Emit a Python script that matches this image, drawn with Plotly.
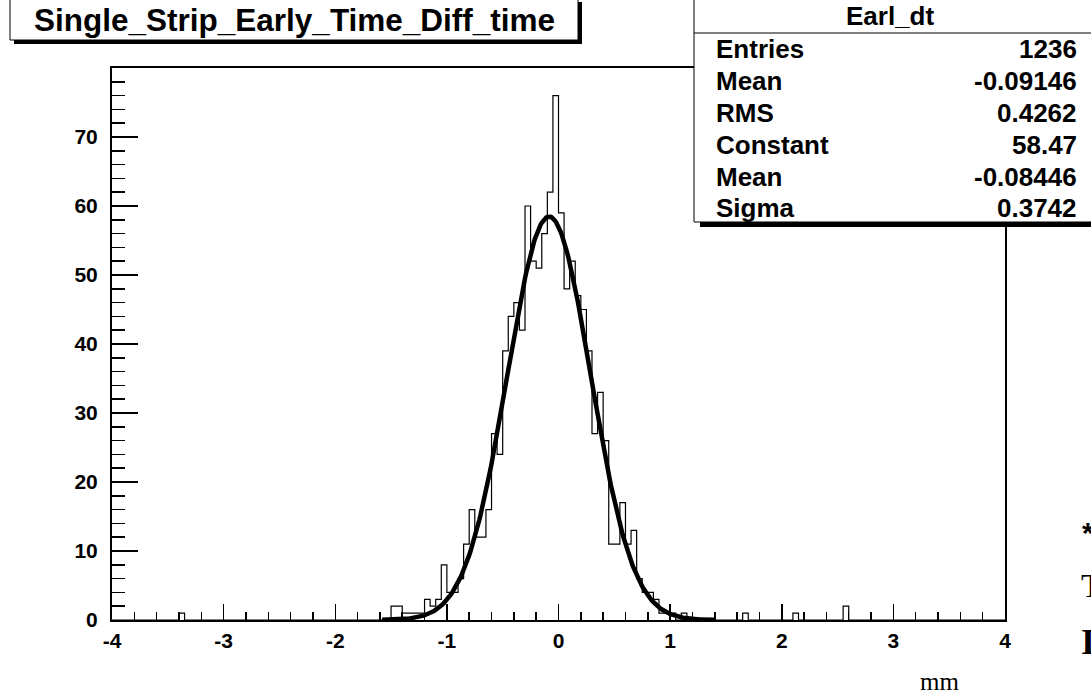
import math
import plotly.graph_objects as go

# ---------------- data ----------------
hist_name = "Earl_dt"
title_text = "Single_Strip_Early_Time_Diff_time"
x_min, x_max, bin_width = -4.0, 4.0, 0.05
counts = [
    0, 0, 0, 0, 0, 0, 0, 0, 0, 0, 0, 0, 1, 0, 0, 0, 0, 0, 0, 0,
    0, 0, 0, 0, 0, 0, 0, 0, 0, 0, 0, 0, 0, 0, 0, 0, 0, 0, 0, 0,
    0, 0, 0, 0, 0, 0, 0, 0, 0, 0, 2, 2, 1, 1, 1, 1, 3, 2, 3, 8,
    4, 4, 6, 11, 16, 12, 12, 16, 27, 24, 39, 44, 46, 42, 60, 52, 51, 56, 62, 76,
    59, 48, 52, 47, 45, 39, 27, 33, 26, 11, 11, 17, 11, 13, 6, 4, 4, 3, 1, 1,
    1, 0, 1, 0, 0, 0, 0, 0, 0, 0, 0, 0, 0, 1, 0, 0, 0, 0, 0, 0,
    0, 0, 1, 0, 0, 0, 0, 0, 0, 0, 0, 2, 0, 0, 0, 0, 0, 0, 0, 0,
    0, 0, 0, 0, 0, 0, 0, 0, 0, 0, 0, 0, 0, 0, 0, 0, 0, 0, 0, 0,
]
stat_labels = ["Entries", "Mean", "RMS", "Constant", "Mean", "Sigma"]
stat_values = ["1236", "-0.09146", "0.4262", "58.47", "-0.08446", "0.3742"]
fit_constant, fit_mean, fit_sigma = 58.47, -0.08446, 0.3742
fit_range = [-1.58, 1.41]
x_tick_vals = [-4, -3, -2, -1, 0, 1, 2, 3, 4]
x_tick_labels = ["-4", "-3", "-2", "-1", "0", "1", "2", "3", "4"]
y_tick_vals = [0, 10, 20, 30, 40, 50, 60, 70]
y_tick_labels = ["0", "10", "20", "30", "40", "50", "60", "70"]
unit_label = "mm"

# ---------------- geometry helpers ----------------
W, H = 1091, 699
L, R, T, B = 112, 1005, 68, 620  # plot area in window pixels


def px(x):
    return (x - L) / (R - L)


def py(y):
    return (B - y) / (B - T)


# ---------------- traces ----------------
edges = [x_min + i * bin_width for i in range(len(counts) + 1)]
step_y = counts + [counts[-1]]

fig = go.Figure()
fig.add_trace(go.Scatter(
    x=edges, y=step_y, mode="lines", line=dict(shape="hv", color="black", width=1.2),
    hoverinfo="skip", showlegend=False,
))

n_fit = 300
fx = [fit_range[0] + (fit_range[1] - fit_range[0]) * i / (n_fit - 1) for i in range(n_fit)]
fy = [fit_constant * math.exp(-0.5 * ((v - fit_mean) / fit_sigma) ** 2) for v in fx]
fig.add_trace(go.Scatter(
    x=fx, y=fy, mode="lines", line=dict(color="black", width=4.5),
    hoverinfo="skip", showlegend=False,
))

bold = dict(family="Liberation Sans", size=21, color="black", weight="bold")

fig.update_xaxes(
    range=[x_min, x_max], showgrid=False, zeroline=False,
    showline=True, linecolor="black", linewidth=2, mirror=True,
    ticks="inside", ticklen=16, tickwidth=1.5, tickcolor="black",
    tickmode="array", tickvals=x_tick_vals, ticktext=x_tick_labels,
    minor=dict(dtick=0.2, tick0=0, ticks="inside", ticklen=8, tickwidth=1.5, tickcolor="black"),
    tickfont=bold, ticklabelstandoff=1,
)
fig.update_yaxes(
    range=[0, 80], showgrid=False, zeroline=False,
    showline=True, linecolor="black", linewidth=2, mirror=True,
    ticks="inside", ticklen=26, tickwidth=1.5, tickcolor="black",
    tickmode="array", tickvals=y_tick_vals, ticktext=y_tick_labels,
    minor=dict(dtick=2, tick0=0, ticks="inside", ticklen=13, tickwidth=1.5, tickcolor="black"),
    tickfont=bold, ticklabelstandoff=8,
)

shapes = []
annots = []

# title box with shadow
shapes.append(dict(type="rect", xref="paper", yref="paper", layer="above",
                   x0=px(14), x1=px(582), y0=py(44), y1=py(2),
                   fillcolor="black", line=dict(width=0)))
shapes.append(dict(type="rect", xref="paper", yref="paper", layer="above",
                   x0=px(10), x1=px(578), y0=py(40), y1=py(-5),
                   fillcolor="white", line=dict(color="black", width=1)))
annots.append(dict(xref="paper", yref="paper", x=px(294), y=py(20), text=title_text,
                   showarrow=False, xanchor="center", yanchor="middle",
                   font=dict(family="Liberation Sans", size=31.5, color="black", weight="bold")))

# stats box with shadow
shapes.append(dict(type="rect", xref="paper", yref="paper", layer="above",
                   x0=px(700), x1=px(1100), y0=py(227), y1=py(2),
                   fillcolor="black", line=dict(width=0)))
shapes.append(dict(type="rect", xref="paper", yref="paper", layer="above",
                   x0=px(694), x1=px(1100), y0=py(222), y1=py(-5),
                   fillcolor="white", line=dict(color="black", width=1)))
shapes.append(dict(type="line", xref="paper", yref="paper", layer="above",
                   x0=px(694), x1=px(1100), y0=py(33), y1=py(33),
                   line=dict(color="black", width=1)))
stat_font = dict(family="Liberation Sans", size=26, color="black", weight="bold")
annots.append(dict(xref="paper", yref="paper", x=px(890), y=py(16), text=hist_name,
                   showarrow=False, xanchor="center", yanchor="middle", font=stat_font))
row_y = [49, 81, 113, 145, 177, 208]
for lab, val, yy in zip(stat_labels, stat_values, row_y):
    annots.append(dict(xref="paper", yref="paper", x=px(714), y=py(yy), text=lab,
                       showarrow=False, xanchor="left", yanchor="middle", font=stat_font))
    annots.append(dict(xref="paper", yref="paper", x=px(1079), y=py(yy), text=val,
                       showarrow=False, xanchor="right", yanchor="middle", font=stat_font))

# unit label and clipped side text
annots.append(dict(xref="paper", yref="paper", x=px(939), y=py(681), text=unit_label,
                   showarrow=False, xanchor="center", yanchor="middle",
                   font=dict(family="Liberation Serif", size=25, color="black")))
annots.append(dict(xref="paper", yref="paper", x=px(1080), y=py(532), text="*",
                   showarrow=False, xanchor="left", yanchor="middle",
                   font=dict(family="Liberation Sans", size=30, color="black", weight="bold")))
annots.append(dict(xref="paper", yref="paper", x=px(1079), y=py(585), text="T",
                   showarrow=False, xanchor="left", yanchor="middle",
                   font=dict(family="Liberation Serif", size=34, color="black")))
annots.append(dict(xref="paper", yref="paper", x=px(1079), y=py(642), text="I",
                   showarrow=False, xanchor="left", yanchor="middle",
                   font=dict(family="Liberation Serif", size=36, color="black", weight="bold")))

fig.update_layout(
    width=W, height=H, autosize=False,
    margin=dict(l=L, r=W - R, t=T, b=H - B, pad=0),
    paper_bgcolor="white", plot_bgcolor="white",
    shapes=shapes, annotations=annots, showlegend=False,
)

fig.write_html(
    "out.html",
    config={"displayModeBar": False, "staticPlot": True},
    post_script="document.body.style.margin='0px'; document.body.style.overflow='hidden';",
)
